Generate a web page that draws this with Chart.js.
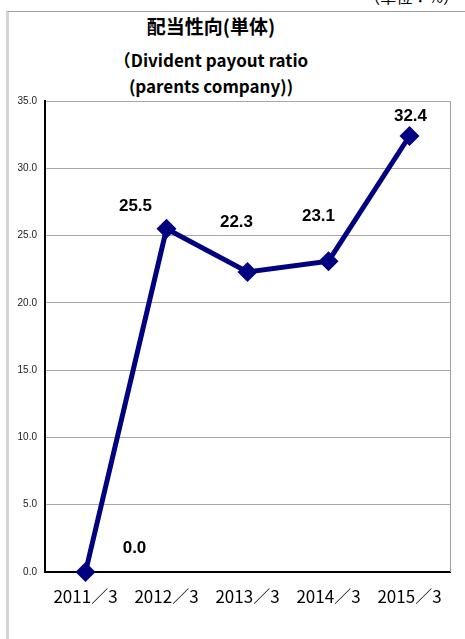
<!DOCTYPE html>
<html>
<head>
<meta charset="utf-8">
<script src="https://cdn.jsdelivr.net/npm/chart.js@4.4.1/dist/chart.umd.min.js"></script>
<style>
  body { margin: 0; background: #fff; overflow: hidden; }
  #frame { position: absolute; left: 6px; top: 11px; width: 480px; height: 650px;
           border-top: 1px solid #a0a0a0; border-left: 3px solid #d4d4d4; box-sizing: border-box; }
  .t { position: absolute; left: 111px; width: 200px; text-align: center; white-space: nowrap;
       font-family: "Noto Sans CJK JP", sans-serif; font-weight: bold; color: #000; }
  #unit { position: absolute; right: 6px; top: -16px; font-family: "Noto Sans CJK JP", sans-serif;
          font-size: 16px; color: #000; }
  canvas { position: absolute; left: 0; top: 0; }
</style>
</head>
<body>
<div id="frame"></div>
<div id="unit">（単位：%）</div>
<div class="t" style="top:12px;font-size:19px;line-height:28px;">配当性向(単体)</div>
<div class="t" style="top:47px;font-size:17px;line-height:26px;">（Divident payout ratio</div>
<div class="t" style="top:73px;font-size:17px;line-height:26px;">(parents company))</div>
<canvas id="c" width="465" height="639"></canvas>
<script>
// fiscal years and payout ratio (%)
var years = ['2011／3', '2012／3', '2013／3', '2014／3', '2015／3'];
var payout = [0.0, 25.5, 22.3, 23.1, 32.4];
var yTicks = [0, 5, 10, 15, 20, 25, 30, 35];

// where each value label sits relative to its point (px)
var labelShift = [[49, -24], [-31, -23], [-11, -50], [-10, -45], [1, -20]];

var valueLabels = {
  id: 'valueLabels',
  afterDatasetsDraw: function (chart) {
    var ctx = chart.ctx;
    var meta = chart.getDatasetMeta(0);
    ctx.save();
    ctx.font = 'bold 17px "Liberation Sans", Arial, sans-serif';
    ctx.fillStyle = '#000';
    ctx.textAlign = 'center';
    ctx.textBaseline = 'middle';
    meta.data.forEach(function (pt, i) {
      ctx.fillText(payout[i].toFixed(1), pt.x + labelShift[i][0], pt.y + labelShift[i][1]);
    });
    ctx.restore();
  }
};

var rightEdge = {
  id: 'rightEdge',
  beforeDatasetsDraw: function (chart) {
    var a = chart.chartArea, ctx = chart.ctx;
    ctx.save();
    ctx.strokeStyle = '#a0a0a0';
    ctx.lineWidth = 1;
    ctx.beginPath();
    ctx.moveTo(a.right + 0.5, a.top);
    ctx.lineTo(a.right + 0.5, a.bottom);
    ctx.stroke();
    ctx.restore();
  }
};

new Chart(document.getElementById('c'), {
  type: 'line',
  data: {
    labels: years,
    datasets: [{
      data: payout,
      borderColor: '#000080',
      backgroundColor: '#000080',
      borderWidth: 5,
      pointStyle: 'rectRot',
      pointRadius: 10,
      pointHoverRadius: 10,
      pointBorderWidth: 0,
      tension: 0,
      clip: false
    }]
  },
  options: {
    responsive: false,
    devicePixelRatio: 1,
    animation: false,
    layout: { padding: { top: 101, right: 15, bottom: 0, left: 0 } },
    plugins: { legend: { display: false }, tooltip: { enabled: false } },
    scales: {
      x: {
        offset: true,
        grid: { display: false },
        border: { display: true, color: '#000', width: 2 },
        ticks: {
          padding: 6,
          color: '#000',
          font: { family: '"Noto Sans CJK JP", sans-serif', size: 17 },
          maxRotation: 0
        },
        afterFit: function (s) { s.height = 67; }
      },
      y: {
        min: 0,
        max: 35,
        afterBuildTicks: function (s) { s.ticks = yTicks.map(function (v) { return { value: v }; }); },
        grid: { color: '#a8a8a8', lineWidth: 1, drawTicks: false },
        border: { display: true, color: '#000', width: 2, dash: [] },
        ticks: {
          padding: 8,
          color: '#222',
          font: { family: '"Liberation Sans", Arial, sans-serif', size: 10 },
          callback: function (v) { return Number(v).toFixed(1); }
        },
        afterFit: function (s) { s.width = 45; }
      }
    }
  },
  plugins: [rightEdge, valueLabels]
});
</script>
</body>
</html>
